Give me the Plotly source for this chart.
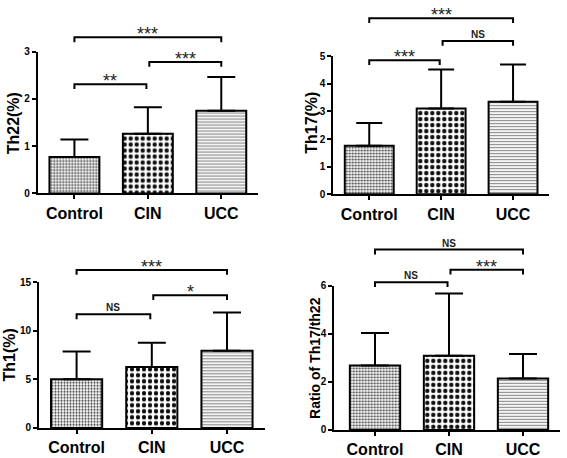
import plotly.graph_objects as go

W, H = 567, 458

categories = ["Control", "CIN", "UCC"]

th22_mean = [0.77, 1.26, 1.75]
th22_sd = [0.37, 0.56, 0.71]
th17_mean = [1.76, 3.11, 3.35]
th17_sd = [0.82, 1.41, 1.35]
th1_mean = [5.02, 6.29, 7.94]
th1_sd = [2.86, 2.49, 3.94]
ratio_mean = [2.68, 3.09, 2.14]
ratio_sd = [1.36, 2.59, 1.02]

th22_ticks = [0, 1, 2, 3]
th17_ticks = [0, 1, 2, 3, 4, 5]
th1_ticks = [0, 5, 10, 15]
ratio_ticks = [0, 2, 4, 6]

# (group i, group j, bracket height, label)
th22_brackets = [(0, 1, 2.31, "**"), (1, 2, 2.78, "***"), (0, 2, 3.30, "***")]
th17_brackets = [(0, 1, 4.85, "***"), (1, 2, 5.55, "NS"), (0, 2, 6.37, "***")]
th1_brackets = [(0, 1, 11.7, "NS"), (1, 2, 13.67, "*"), (0, 2, 16.27, "***")]
ratio_brackets = [(0, 1, 6.15, "NS"), (1, 2, 6.67, "***"), (0, 2, 7.51, "NS")]

titles = ["Th22(%)", "Th17(%)", "Th1(%)", "Ratio of Th17/th22"]

# layout geometry in pixels: x_left, x_right, y_zero, unit(px per value), overlay max, x range
panels = [
    dict(mean=th22_mean, sd=th22_sd, ticks=th22_ticks, br=th22_brackets,
         xl=37.7, xr=258.0, y0=193.3, unit=48.77, omax=3.6, xrange=[-0.5, 2.5],
         title_xy=(13, 121), title_size=16, cap=14),
    dict(mean=th17_mean, sd=th17_sd, ticks=th17_ticks, br=th17_brackets,
         xl=333.3, xr=549.0, y0=194.3, unit=28.52, omax=6.7, xrange=[-0.5, 2.5],
         title_xy=(311.5, 121), title_size=16, cap=13),
    dict(mean=th1_mean, sd=th1_sd, ticks=th1_ticks, br=th1_brackets,
         xl=39.0, xr=264.6, y0=435.3, unit=10.02, omax=18.0, xrange=[-0.5, 2.5],
         title_xy=(9.5, 360), title_size=16, cap=14),
    dict(mean=ratio_mean, sd=ratio_sd, ticks=ratio_ticks, br=ratio_brackets,
         xl=334.3, xr=560.0, y0=437.3, unit=24.77, omax=8.3, xrange=[-0.55, 2.5],
         title_xy=(315, 363), title_size=14, cap=14),
]

patterns = [
    dict(shape=".", size=3, solidity=0.38, fgcolor="#333333", bgcolor="white", fillmode="replace"),
    dict(shape=".", size=6, solidity=0.42, fgcolor="#111111", bgcolor="white", fillmode="replace"),
    dict(shape="-", size=3, solidity=0.4, fgcolor="#8a8a8a", bgcolor="white", fillmode="replace"),
]

FONT = "Liberation Sans, Arial, sans-serif"

fig = go.Figure()
layout = {}
annotations = []

for k, p in enumerate(panels):
    n = k + 1
    xa = "x" if n == 1 else f"x{n}"
    ya = "y" if n == 1 else f"y{n}"
    yo = f"y{n + 4}"
    top_tick = max(p["ticks"])
    dom_y = [(H - p["y0"]) / H, (H - (p["y0"] - top_tick * p["unit"])) / H]
    dom_yo = [(H - p["y0"]) / H, min(1.0, (H - (p["y0"] - p["omax"] * p["unit"])) / H)]
    dom_x = [p["xl"] / W, p["xr"] / W]

    for c in range(3):
        fig.add_trace(go.Bar(
            x=[c], y=[p["mean"][c]], width=0.68,
            marker=dict(color="white", line=dict(color="black", width=2), pattern=patterns[c]),
            error_y=dict(type="data", array=[p["sd"][c]], arrayminus=[0], symmetric=False,
                         color="black", thickness=2, width=p["cap"]),
            xaxis=xa, yaxis=ya, showlegend=False, hoverinfo="skip",
        ))

    d = 5.0 / p["unit"]
    for (i, j, h, lab) in p["br"]:
        x0 = i + (0.02 if i > 0 else 0.0)
        x1 = j - (0.02 if j == 1 else 0.0)
        fig.add_trace(go.Scatter(
            x=[x0, x0, x1, x1], y=[h - d, h, h, h - d], mode="lines",
            line=dict(color="black", width=2), xaxis=xa, yaxis=yo,
            showlegend=False, hoverinfo="skip",
        ))
        is_star = "*" in lab
        size = 18 if is_star else 10
        annotations.append(dict(
            x=(x0 + x1) / 2, y=h, xref=xa, yref=yo, text=lab, showarrow=False,
            yanchor="middle", yshift=(8 - 0.27 * size if is_star else 6.5),
            font=dict(family=FONT, size=size, color="#222222",
                      weight=("normal" if is_star else "bold")),
        ))

    axkey_x = "xaxis" if n == 1 else f"xaxis{n}"
    axkey_y = "yaxis" if n == 1 else f"yaxis{n}"
    layout[axkey_x] = dict(
        domain=dom_x, anchor=ya, range=p["xrange"], tickvals=[0, 1, 2], ticktext=categories,
        showline=True, linecolor="black", linewidth=2, ticks="outside", ticklen=4,
        tickwidth=1.5, tickcolor="black", showgrid=False, zeroline=False, fixedrange=True,
        tickfont=dict(family=FONT, size=16, color="black", weight="bold"),
    )
    layout[axkey_y] = dict(
        domain=dom_y, anchor=xa, range=[0, top_tick], tickvals=p["ticks"],
        showline=True, linecolor="black", linewidth=2, ticks="outside", ticklen=4,
        tickwidth=1.5, tickcolor="black", showgrid=False, zeroline=False,
        tickfont=dict(family=FONT, size=10, color="black", weight="bold"),
    )
    layout[f"yaxis{n + 4}"] = dict(
        domain=dom_yo, anchor=xa, range=[0, p["omax"]], visible=False,
        showgrid=False, zeroline=False,
    )
    tx, ty = p["title_xy"]
    annotations.append(dict(
        x=tx / W, y=(H - ty) / H, xref="paper", yref="paper", text=titles[k],
        textangle=-90, showarrow=False, xanchor="center", yanchor="middle",
        font=dict(family=FONT, size=p["title_size"], color="black", weight="bold"),
    ))

fig.update_layout(
    width=W, height=H, margin=dict(l=0, r=0, t=0, b=0),
    paper_bgcolor="white", plot_bgcolor="rgba(0,0,0,0)",
    annotations=annotations, **layout,
)

fig.write_html("out.html", config={"displayModeBar": False},
               post_script="document.body.style.margin='0';")
